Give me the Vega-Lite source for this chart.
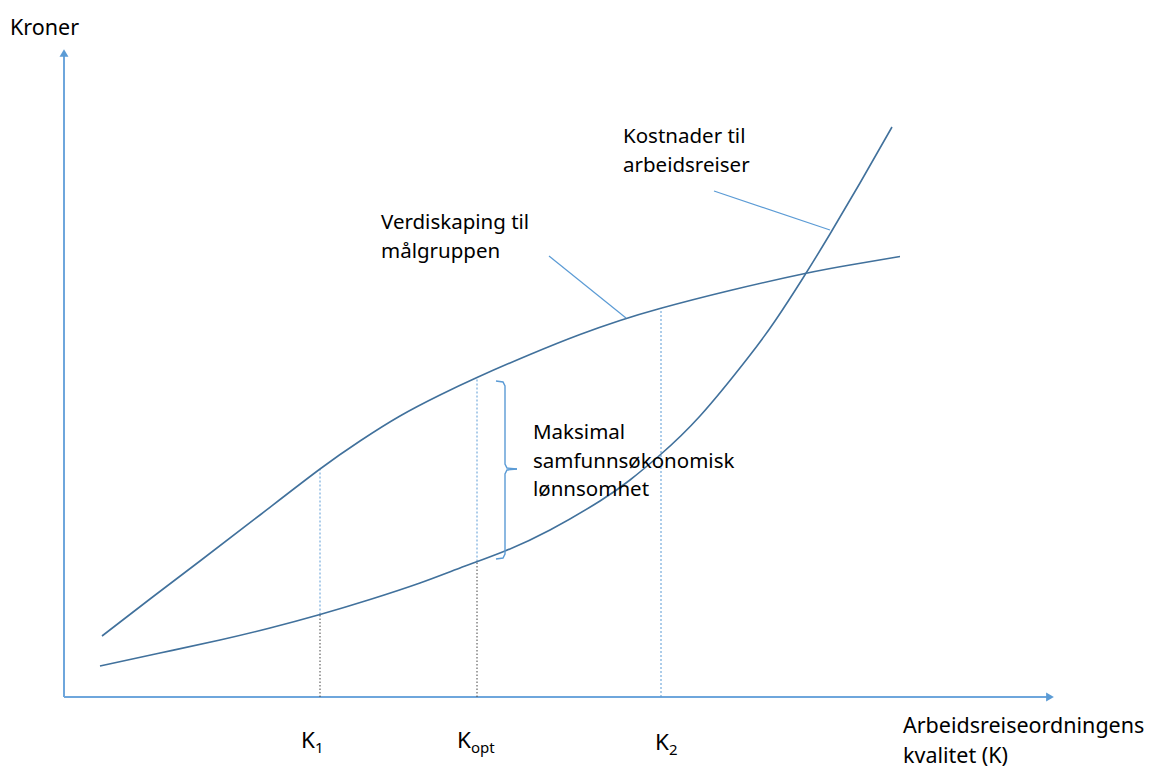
{
  "$schema": "https://vega.github.io/schema/vega-lite/v6.json",
  "width": 1164,
  "height": 769,
  "autosize": {"type": "fit", "contains": "padding"},
  "padding": 0,
  "background": "white",
  "config": {"view": {"stroke": null}, "text": {"font": "Noto Sans", "color": "#000000", "align": "left", "baseline": "alphabetic"}},
  "datasets": {
    "axes": [
      {"part": "y", "x": 0, "y": 0, "ord": 0},
      {"part": "y", "x": 0, "y": 641, "ord": 1},
      {"part": "x", "x": 0, "y": 0, "ord": 0},
      {"part": "x", "x": 983, "y": 0, "ord": 1}
    ],
    "arrows": [
      {"dir": "up", "x": 0, "y": 644},
      {"dir": "right", "x": 986, "y": 0}
    ],
    "curves": [
      {"curve": "Verdiskaping", "x": 38, "y": 61},
      {"curve": "Verdiskaping", "x": 86, "y": 98},
      {"curve": "Verdiskaping", "x": 136, "y": 136},
      {"curve": "Verdiskaping", "x": 196, "y": 182},
      {"curve": "Verdiskaping", "x": 256, "y": 228},
      {"curve": "Verdiskaping", "x": 296, "y": 256},
      {"curve": "Verdiskaping", "x": 336, "y": 281},
      {"curve": "Verdiskaping", "x": 376, "y": 302},
      {"curve": "Verdiskaping", "x": 413, "y": 319.5},
      {"curve": "Verdiskaping", "x": 466, "y": 342.5},
      {"curve": "Verdiskaping", "x": 516, "y": 362.5},
      {"curve": "Verdiskaping", "x": 556, "y": 376.5},
      {"curve": "Verdiskaping", "x": 596, "y": 388.5},
      {"curve": "Verdiskaping", "x": 666, "y": 406.5},
      {"curve": "Verdiskaping", "x": 741, "y": 423.5},
      {"curve": "Verdiskaping", "x": 786, "y": 432},
      {"curve": "Verdiskaping", "x": 836, "y": 440.5},
      {"curve": "Kostnader", "x": 36, "y": 31},
      {"curve": "Kostnader", "x": 96, "y": 44},
      {"curve": "Kostnader", "x": 156, "y": 57},
      {"curve": "Kostnader", "x": 206, "y": 69},
      {"curve": "Kostnader", "x": 256, "y": 82.5},
      {"curve": "Kostnader", "x": 306, "y": 97.5},
      {"curve": "Kostnader", "x": 356, "y": 114},
      {"curve": "Kostnader", "x": 396, "y": 129},
      {"curve": "Kostnader", "x": 441, "y": 146},
      {"curve": "Kostnader", "x": 486, "y": 167},
      {"curve": "Kostnader", "x": 536, "y": 196},
      {"curve": "Kostnader", "x": 566, "y": 217},
      {"curve": "Kostnader", "x": 596, "y": 242},
      {"curve": "Kostnader", "x": 636, "y": 281},
      {"curve": "Kostnader", "x": 683, "y": 338},
      {"curve": "Kostnader", "x": 711, "y": 376},
      {"curve": "Kostnader", "x": 739, "y": 419},
      {"curve": "Kostnader", "x": 766, "y": 463},
      {"curve": "Kostnader", "x": 796, "y": 514},
      {"curve": "Kostnader", "x": 828, "y": 570}
    ],
    "vlines": [
      {"k": "K1", "seg": "upper", "x": 256, "y": 82.5, "y2": 228},
      {"k": "K1", "seg": "lower", "x": 256, "y": 0, "y2": 82.5},
      {"k": "Kopt", "seg": "upper", "x": 413, "y": 135.5, "y2": 319.5},
      {"k": "Kopt", "seg": "lower", "x": 413, "y": 0, "y2": 135.5},
      {"k": "K2", "seg": "upper", "x": 597, "y": 0, "y2": 389}
    ],
    "leaders": [
      {"id": "verdi", "ord": 0, "x": 485, "y": 441},
      {"id": "verdi", "ord": 1, "x": 562, "y": 379},
      {"id": "kost", "ord": 0, "x": 650, "y": 506},
      {"id": "kost", "ord": 1, "x": 766, "y": 467}
    ],
    "bracket": [
      {"part": "top", "ord": 0, "x": 432, "y": 316},
      {"part": "top", "ord": 1, "x": 439, "y": 315},
      {"part": "top", "ord": 2, "x": 441, "y": 311},
      {"part": "top", "ord": 3, "x": 441, "y": 233},
      {"part": "top", "ord": 4, "x": 443, "y": 229},
      {"part": "top", "ord": 5, "x": 453, "y": 228},
      {"part": "bottom", "ord": 0, "x": 453, "y": 228},
      {"part": "bottom", "ord": 1, "x": 443, "y": 227},
      {"part": "bottom", "ord": 2, "x": 441, "y": 223},
      {"part": "bottom", "ord": 3, "x": 441, "y": 143},
      {"part": "bottom", "ord": 4, "x": 439, "y": 139},
      {"part": "bottom", "ord": 5, "x": 432, "y": 138}
    ],
    "labels": [
      {"kind": "axis", "x": -54, "y": 662, "text": "Kroner"},
      {"kind": "axis", "x": 839, "y": -36, "text": "Arbeidsreiseordningens"},
      {"kind": "axis", "x": 839, "y": -65.5, "text": "kvalitet (K)"},
      {"kind": "note", "x": 559, "y": 554, "text": "Kostnader til"},
      {"kind": "note", "x": 559, "y": 525, "text": "arbeidsreiser"},
      {"kind": "note", "x": 317, "y": 468, "text": "Verdiskaping til"},
      {"kind": "note", "x": 317, "y": 439, "text": "målgruppen"},
      {"kind": "note", "x": 469, "y": 258, "text": "Maksimal"},
      {"kind": "note", "x": 469, "y": 229, "text": "samfunnsøkonomisk"},
      {"kind": "note", "x": 469, "y": 201, "text": "lønnsomhet"},
      {"kind": "k", "x": 237, "y": -51, "text": "K"},
      {"kind": "k", "x": 393, "y": -51, "text": "K"},
      {"kind": "k", "x": 591, "y": -53, "text": "K"},
      {"kind": "sub", "x": 251, "y": -56, "text": "1"},
      {"kind": "sub", "x": 407, "y": -56, "text": "opt"},
      {"kind": "sub", "x": 605, "y": -58, "text": "2"}
    ]
  },
  "encoding": {
    "x": {"field": "x", "type": "quantitative", "scale": {"domain": [-64, 1100], "nice": false, "zero": false}, "axis": null},
    "y": {"field": "y", "type": "quantitative", "scale": {"domain": [-72, 697], "nice": false, "zero": false}, "axis": null}
  },
  "layer": [
    {
      "data": {"name": "axes"},
      "mark": {"type": "line", "color": "#6ea6dc", "strokeWidth": 2},
      "encoding": {"detail": {"field": "part"}, "order": {"field": "ord"}}
    },
    {
      "data": {"name": "arrows"},
      "transform": [{"filter": "datum.dir === 'up'"}],
      "mark": {"type": "point", "shape": "triangle-up", "filled": true, "color": "#5b9bd5", "size": 80, "opacity": 1}
    },
    {
      "data": {"name": "arrows"},
      "transform": [{"filter": "datum.dir === 'right'"}],
      "mark": {"type": "point", "shape": "triangle-right", "filled": true, "color": "#5b9bd5", "size": 80, "opacity": 1}
    },
    {
      "data": {"name": "vlines"},
      "transform": [{"filter": "datum.seg === 'upper'"}],
      "mark": {"type": "rule", "color": "#5b9bd5", "strokeWidth": 1, "strokeDash": [2, 2]},
      "encoding": {"y2": {"field": "y2"}}
    },
    {
      "data": {"name": "vlines"},
      "transform": [{"filter": "datum.seg === 'lower'"}],
      "mark": {"type": "rule", "color": "#444444", "strokeWidth": 1, "strokeDash": [1.5, 2]},
      "encoding": {"y2": {"field": "y2"}}
    },
    {
      "data": {"name": "curves"},
      "mark": {"type": "line", "color": "#41719c", "strokeWidth": 1.6, "interpolate": "natural"},
      "encoding": {"detail": {"field": "curve"}}
    },
    {
      "data": {"name": "leaders"},
      "mark": {"type": "line", "color": "#5b9bd5", "strokeWidth": 1.2},
      "encoding": {"detail": {"field": "id"}, "order": {"field": "ord"}}
    },
    {
      "data": {"name": "bracket"},
      "mark": {"type": "line", "color": "#5b9bd5", "strokeWidth": 1.4},
      "encoding": {"detail": {"field": "part"}, "order": {"field": "ord"}}
    },
    {
      "data": {"name": "labels"},
      "transform": [{"filter": "datum.kind === 'axis'"}],
      "mark": {"type": "text", "fontSize": 21.5},
      "encoding": {"text": {"field": "text"}}
    },
    {
      "data": {"name": "labels"},
      "transform": [{"filter": "datum.kind === 'note'"}],
      "mark": {"type": "text", "fontSize": 20.5},
      "encoding": {"text": {"field": "text"}}
    },
    {
      "data": {"name": "labels"},
      "transform": [{"filter": "datum.kind === 'k'"}],
      "mark": {"type": "text", "fontSize": 22.5},
      "encoding": {"text": {"field": "text"}}
    },
    {
      "data": {"name": "labels"},
      "transform": [{"filter": "datum.kind === 'sub'"}],
      "mark": {"type": "text", "fontSize": 15},
      "encoding": {"text": {"field": "text"}}
    }
  ]
}
